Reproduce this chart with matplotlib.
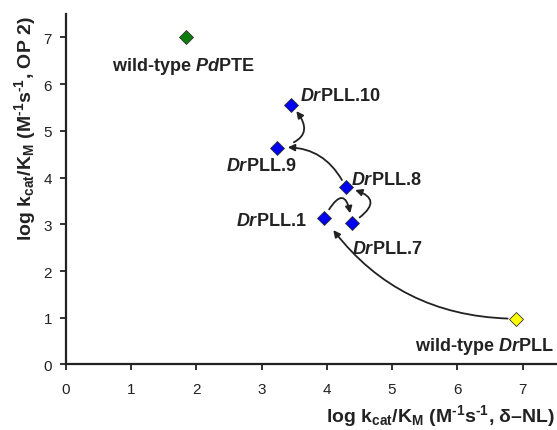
import matplotlib
matplotlib.use('Agg')
import matplotlib.pyplot as plt

plt.rcParams['font.family'] = ['Liberation Sans', 'DejaVu Sans']
plt.rcParams['mathtext.fontset'] = 'custom'
plt.rcParams['mathtext.rm'] = 'Liberation Sans:bold'
plt.rcParams['mathtext.bf'] = 'Liberation Sans:bold'
plt.rcParams['mathtext.it'] = 'Liberation Sans:bold:italic'

# enzyme variants: log kcat/KM for delta-NL (x) and OP 2 (y)
names = ['wild-type $\\mathit{Pd}$PTE', '$\\mathit{Dr}$PLL.10', '$\\mathit{Dr}$PLL.9',
         '$\\mathit{Dr}$PLL.8', '$\\mathit{Dr}$PLL.1', '$\\mathit{Dr}$PLL.7',
         'wild-type $\\mathit{Dr}$PLL']
x_nl = [1.84, 3.45, 3.23, 4.29, 3.96, 4.38, 6.90]
y_op2 = [7.00, 5.56, 4.64, 3.79, 3.14, 3.03, 0.98]
colors = ['#0b7d0b', '#0000f0', '#0000f0', '#0000f0', '#0000f0', '#0000f0', '#ffff00']

# label offsets (points) and alignment
label_pos = [((-2, -20), 'center'), ((6.5, 6.5), 'left'), ((14, -12.5), 'right'),
             ((4, 6), 'left'), ((-12.5, -2), 'right'), ((0.5, -18.5), 'left'),
             ((-73, -19), 'left')]

# evolution path: (from index, to index, curvature, shrinkA, shrinkB)
steps = [(6, 4, -0.26, 6, 11), (4, 5, -1.6, 7, 7), (5, 3, 1.2, 7, 7),
         (3, 2, 0.35, 6, 8), (2, 1, 0.9, 13, 6)]

fig = plt.figure(figsize=(5.57, 4.31), dpi=100)
ax = fig.add_axes([0.1185, 0.152, 0.884, 0.813])

for i in range(len(names)):
    ax.plot(x_nl[i], y_op2[i], marker='D', ms=7, color=colors[i],
            mec='#333333', mew=0.6, zorder=3, clip_on=False)
    off, ha = label_pos[i]
    ax.annotate(names[i], (x_nl[i], y_op2[i]), xytext=off, textcoords='offset points',
                ha=ha, va='center', fontsize=13, fontweight='bold', color='#222222',
                annotation_clip=False)

for a, b, rad, sa, sb in steps:
    ax.annotate('', xy=(x_nl[b], y_op2[b]), xytext=(x_nl[a], y_op2[a]),
                arrowprops=dict(arrowstyle='-|>', color='#222222', lw=1.3,
                                connectionstyle=f'arc3,rad={rad}',
                                shrinkA=sa, shrinkB=sb, mutation_scale=10))

ax.set_xlim(0, 7.55)
ax.set_ylim(0, 7.5)
ax.set_xticks(range(0, 8))
ax.set_yticks(range(0, 8))
for s in ['top', 'right']:
    ax.spines[s].set_visible(False)
for s in ['left', 'bottom']:
    ax.spines[s].set_linewidth(1.6)
    ax.spines[s].set_color('#222222')
ax.tick_params(direction='out', length=4, width=1.3, labelsize=11, colors='#222222')
ax.tick_params(axis='x', pad=8.5)
ax.tick_params(axis='y', pad=6)

unit = '(M$^{\\text{-1}}$s$^{\\text{-1}}$, '
ax.set_xlabel('log k$_{\\mathrm{cat}}$/K$_{\\mathrm{M}}$ ' + unit + 'δ–NL)',
              fontsize=14, fontweight='bold', color='#222222', ha='right')
ax.xaxis.set_label_coords(0.993, -0.108)
ax.set_ylabel('log k$_{\\mathrm{cat}}$/K$_{\\mathrm{M}}$ ' + unit + 'OP 2)',
              fontsize=14, fontweight='bold', color='#222222')
ax.yaxis.set_label_coords(-0.057, 0.675)

fig.savefig('out.png', dpi=100)
